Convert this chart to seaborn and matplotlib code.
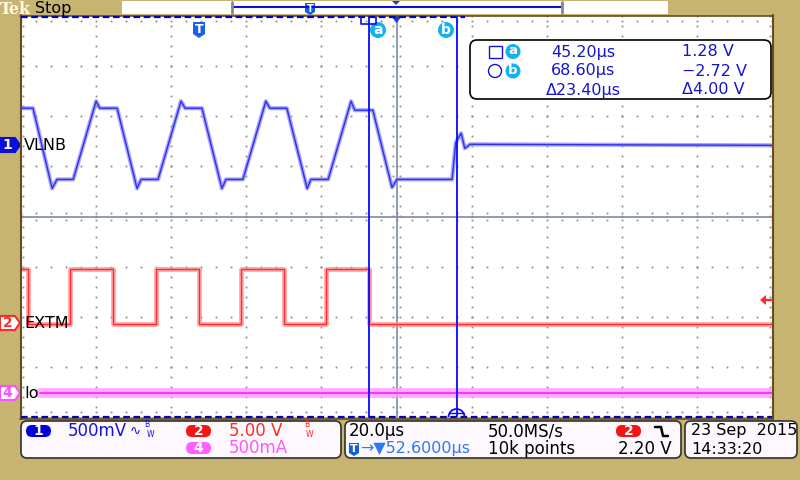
import numpy as np
import pandas as pd
import matplotlib
matplotlib.use("Agg")
import matplotlib.pyplot as plt
from matplotlib.patches import FancyBboxPatch, Polygon, Rectangle, Circle, Arc
import seaborn as sns

# ---------------- data ----------------
# time axis: 20 us/div, 10 div, trigger delay 52.6 us at screen centre
time_per_div = 20.0
trigger_delay = 52.6
t_left = trigger_delay - 5 * time_per_div
t_right = trigger_delay + 5 * time_per_div

# CH1 VLNB, 500 mV/div
ch1_vdiv = 0.5
ch1_offset = 1.42
vlnb_t = [-47.4, -44.2, -39.1, -37.8, -33.5, -27.4, -26.4, -21.8, -16.5, -15.4,
          -10.9, -4.8, -3.7, 0.8, 6.1, 7.2, 11.7, 17.8, 18.9, 23.4,
          28.8, 29.8, 34.4, 40.5, 41.5, 46.3, 51.4, 52.7, 67.4, 68.4,
          69.8, 70.8, 72.2, 152.6]
vlnb_v = [0.37, 0.37, -0.43, -0.34, -0.34, 0.44, 0.37, 0.37, -0.43, -0.34,
          -0.34, 0.44, 0.37, 0.37, -0.43, -0.34, -0.34, 0.44, 0.37, 0.37,
          -0.43, -0.34, -0.34, 0.44, 0.35, 0.35, -0.42, -0.34, -0.34, 0.03,
          0.12, -0.03, 0.01, 0.0]

# CH2 EXTM, 5.00 V/div (step waveform)
ch2_vdiv = 5.0
ch2_offset = -2.14
extm_t = [-47.4, -45.5, -34.4, -22.9, -11.5, 0.0, 11.2, 22.6, 33.8, 45.3, 152.6]
extm_v = [5.5, 0.0, 5.5, 0.0, 5.5, 0.0, 5.5, 0.0, 5.5, 0.0, 0.0]

# CH4 Io, 500 mA/div
ch4_adiv = 0.5
ch4_offset = -3.53
io_t = [-42.3, 152.6]
io_a = [0.0, 0.0]

# cursors
cursor_a_t = 45.20
cursor_b_t = 68.60
cursor_rows = [("45.20µs", "1.28 V"), ("68.60µs", "−2.72 V"), ("Δ23.40µs", "Δ4.00 V")]

# ---------------- style ----------------
sns.set_style("white")
plt.rcParams['font.family'] = ['DejaVu Sans']

TAN = '#c6b470'
BROWN = '#6b4a22'
BLUE_TXT = '#1414d2'
CH1 = '#3030ea'
CH1_BAND = '#8888ff'
CH2 = '#ff2a2a'
CH2_BAND = '#ff9090'
CH4 = '#ff30ff'
CH4_BAND = '#ff98ff'
CYAN = '#12b2f2'
GRID = '#8c8c8c'
CENTER = '#7c8aa2'

fig = plt.figure(figsize=(8, 4.8), dpi=100, facecolor=TAN)

# main graticule axis: pixel box x 21..772, y 16..417
ax = fig.add_axes([21 / 800, 63 / 480, 751 / 800, 401 / 480])
ax.set_facecolor('white')
ax.set_xlim(t_left, t_right)
ax.set_ylim(-4, 4)
for s in ax.spines.values():
    s.set_visible(False)
ax.set_xticks([])
ax.set_yticks([])

# dotted graticule
div_x = [t_left + time_per_div * k for k in range(11)]
div_y = list(range(-4, 5))
dot_y = np.arange(-4, 4.001, 0.2)
dot_x = np.arange(t_left, t_right + 0.001, time_per_div / 5)
for k, x in enumerate(div_x):
    if k == 5:
        continue
    xx = x
    if k == 0:
        xx = x + 0.5
    if k == 10:
        xx = x - 0.5
    ax.plot(np.full_like(dot_y, xx), dot_y, ls='none', marker='s', ms=1.3,
            color=GRID, mew=0, zorder=1)
for y in div_y:
    if y == 0:
        continue
    yy = y
    if y == 4:
        yy = 3.9
    if y == -4:
        yy = -3.9
    ax.plot(dot_x, np.full_like(dot_x, yy), ls='none', marker='s', ms=1.3,
            color=GRID, mew=0, zorder=1)
# centre lines with tick dots
ax.axvline(trigger_delay, color=CENTER, lw=1.2, zorder=1)
ax.axhline(0, color=CENTER, lw=1.2, zorder=1)
for off in (-0.8, 0.8):
    ax.plot(np.full_like(dot_y, trigger_delay + off), dot_y, ls='none', marker='s',
            ms=1.3, color=GRID, mew=0, zorder=1)
for off in (-0.06, 0.06):
    ax.plot(dot_x, np.full_like(dot_x, off), ls='none', marker='s', ms=1.3,
            color=GRID, mew=0, zorder=1)

# traces
ch1_y = [ch1_offset + v / ch1_vdiv for v in vlnb_v]
ch2_y = [ch2_offset + v / ch2_vdiv for v in extm_v]
ch4_y = [ch4_offset + a / ch4_adiv for a in io_a]

df1 = pd.DataFrame({'t': vlnb_t, 'y': ch1_y})
df2 = pd.DataFrame({'t': extm_t, 'y': ch2_y})
df4 = pd.DataFrame({'t': io_t, 'y': ch4_y})

sns.lineplot(data=df4, x='t', y='y', ax=ax, color=CH4_BAND, lw=7, alpha=0.8,
             estimator=None, sort=False, zorder=3)
sns.lineplot(data=df4, x='t', y='y', ax=ax, color=CH4, lw=1.4,
             estimator=None, sort=False, zorder=3)
sns.lineplot(data=df2, x='t', y='y', ax=ax, color=CH2_BAND, lw=3.5, alpha=0.75,
             estimator=None, sort=False, drawstyle='steps-post', zorder=3)
sns.lineplot(data=df2, x='t', y='y', ax=ax, color=CH2, lw=1.0,
             estimator=None, sort=False, drawstyle='steps-post', zorder=3)
sns.lineplot(data=df1, x='t', y='y', ax=ax, color=CH1_BAND, lw=3.0, alpha=0.75,
             estimator=None, sort=False, zorder=4)
sns.lineplot(data=df1, x='t', y='y', ax=ax, color=CH1, lw=1.0,
             estimator=None, sort=False, zorder=4)

# cursors
ax.axvline(cursor_a_t, color='#0a0aff', lw=1.3, zorder=5)
ax.axvline(cursor_b_t, color='#0a0aff', lw=1.3, zorder=5)
ax.set_xlabel('')
ax.set_ylabel('')
ax.set_xlim(t_left, t_right)
ax.set_ylim(-4, 4)

# ---------------- overlay in pixel coordinates ----------------
ov = fig.add_axes([0, 0, 1, 1], zorder=10)
ov.set_xlim(0, 800)
ov.set_ylim(480, 0)
ov.axis('off')
ov.patch.set_alpha(0)


def rbox(x, y, w, h, r, fc, ec='none', lw=1.0):
    ov.add_patch(FancyBboxPatch((x, y), w, h, boxstyle=f"round,pad=0,rounding_size={r}",
                                fc=fc, ec=ec, lw=lw, mutation_aspect=1))


def txt(x, y, s, color='black', size=11, ha='left', va='center', **kw):
    ov.text(x, y, s, color=color, fontsize=size, ha=ha, va=va, **kw)


# top strip
ov.add_patch(Rectangle((122, 1), 546, 13, fc='white', ec='none'))
ov.plot([20, 772], [15.5, 15.5], color=BROWN, lw=1.2)
ov.plot([232, 562], [7, 7], color='#1010d0', lw=1.5)
for bx in (232, 562):
    ov.plot([bx, bx], [2, 13], color='#888888', lw=2)
ov.add_patch(Polygon([(305, 3), (315, 3), (315, 12), (310, 15), (305, 12)],
                     closed=True, fc='#1060e0', ec='none'))
txt(310, 8.5, 'T', color='white', size=7, ha='center', weight='bold')
ov.add_patch(Polygon([(392, 1), (400, 1), (396, 5)], closed=True, fc='#1040e0', ec='none'))
txt(0, 9, 'Tek', color='#fffbea', size=11.5, family='DejaVu Serif', weight='bold')
txt(35, 8, 'Stop', color='black', size=11.5)

# frame
ov.plot([20.5, 20.5], [15, 419], color=BROWN, lw=1.5)
ov.plot([772.5, 772.5], [15, 419], color=BROWN, lw=1.5)
ov.plot([20, 773], [419, 419], color=BROWN, lw=1.2)
ov.plot([21, 465], [17, 17], color='#0000c0', lw=1.6, dashes=(3, 1.6))
ov.plot([21, 772], [416.5, 416.5], color='#0000c0', lw=1.6, dashes=(3, 1.6))

# trigger marker T and trigger position triangle
ov.add_patch(Polygon([(193, 22), (205, 22), (205, 34), (199, 38), (193, 34)],
                     closed=True, fc='#1a60e8', ec='none'))
txt(199, 29.5, 'T', color='white', size=9, ha='center', weight='bold')
ov.add_patch(Polygon([(391, 16), (402, 16), (396.5, 23)], closed=True, fc='#1040e0', ec='none'))

# cursor labels
ov.plot([361, 361, 376, 376], [17, 24, 24, 17], color='#0a0aff', lw=1.2)
for cx, lab in ((378, 'a'), (446, 'b')):
    ov.add_patch(Circle((cx, 30), 8, fc=CYAN, ec='none'))
    txt(cx, 29.5, lab, color='white', size=10, ha='center', weight='bold')
ov.add_patch(Arc((456.5, 417), 16, 16, theta1=180, theta2=360, color='#0a0aff', lw=1.3))
ov.plot([449, 464], [413, 413], color='#0a0aff', lw=1.0)

# trigger level arrow
ov.add_patch(Polygon([(760, 300), (766, 295), (766, 305)], closed=True, fc=CH2, ec='none'))
ov.plot([766, 772], [300, 300], color=CH2, lw=1.6)

# channel flags
def flag(yc, fc, ec, tc, label, num):
    ov.add_patch(Polygon([(0, yc - 7), (15, yc - 7), (20, yc), (15, yc + 7), (0, yc + 7)],
                         closed=True, fc=fc, ec=ec, lw=1.5))
    txt(7.5, yc, num, color=tc, size=10, ha='center', weight='bold')
    txt(24, yc, label, color='black', size=11.5)


flag(145, '#0a10d8', '#0a10d8', 'white', 'VLNB', '1')
flag(323, 'white', CH2, CH2, 'EXTM', '2')
flag(393, 'white', '#ff50ff', '#ff50ff', 'Io', '4')

# measurement box
rbox(470, 40, 301, 59, 7, 'white', 'black', 1.2)
ov.add_patch(Rectangle((488.5, 45.5), 13, 12, fc='none', ec=BLUE_TXT, lw=1))
ov.add_patch(Circle((495, 71), 6.5, fc='none', ec=BLUE_TXT, lw=1))
for cy, lab in ((51.5, 'a'), (71, 'b')):
    ov.add_patch(Circle((513, cy), 7.5, fc=CYAN, ec='none'))
    txt(513, cy - 0.5, lab, color='white', size=9.5, ha='center', weight='bold')
for (left, right), cy in zip(cursor_rows, (52, 71, 90)):
    txt(583, cy, left, color=BLUE_TXT, size=11.5, ha='center')
    txt(682, cy, right, color=BLUE_TXT, size=11.5, ha='left')

# bottom boxes
BOXFC = '#fdf8fd'
rbox(21, 421, 320, 37, 6, BOXFC, '#303030', 1.2)
rbox(345, 421, 336, 37, 6, BOXFC, '#303030', 1.2)
rbox(685, 421, 112, 37, 6, BOXFC, '#303030', 1.2)


def pill(xc, yc, fc, num):
    rbox(xc - 12.5, yc - 6, 25, 12, 6, fc)
    txt(xc, yc, num, color='white', size=10, ha='center', weight='bold')


pill(38.5, 431, '#0000d8', '1')
txt(68, 431, '500mV', color=BLUE_TXT, size=12)
txt(130, 431, '∿', color=BLUE_TXT, size=9.5)
txt(144, 424.5, 'B', color=BLUE_TXT, size=5.5)
txt(147, 434.5, 'W', color=BLUE_TXT, size=5.5)
pill(198.5, 431, '#f41414', '2')
txt(229, 431, '5.00 V', color=CH2, size=12)
txt(304, 424.5, 'B', color=CH2, size=5.5)
txt(306, 434.5, 'W', color=CH2, size=5.5)
pill(198.5, 448, '#ff60ff', '4')
txt(229, 448, '500mA', color='#ff55ff', size=12)

txt(349, 431, '20.0µs', color='black', size=12)
ov.add_patch(Polygon([(349, 443), (359, 443), (359, 453), (354, 456), (349, 453)],
                     closed=True, fc='#1060e0', ec='none'))
txt(354, 449, 'T', color='white', size=8, ha='center', weight='bold')
txt(360, 449, '→▼52.6000µs', color='#2a7af0', size=11.5)
txt(488, 431, '50.0MS/s', color='black', size=12)
txt(488, 449, '10k points', color='black', size=12)
pill(628.5, 431, '#f41414', '2')
ov.plot([655, 661, 663, 668], [427, 427, 436, 436], color='black', lw=1.8)
txt(672, 449, '2.20 V', color='black', size=12, ha='right')

txt(691, 431, '23 Sep  2015', color='black', size=11.5)
txt(691, 449, '14:33:20', color='black', size=11.5)

fig.savefig('out.png', dpi=100, facecolor=TAN)
